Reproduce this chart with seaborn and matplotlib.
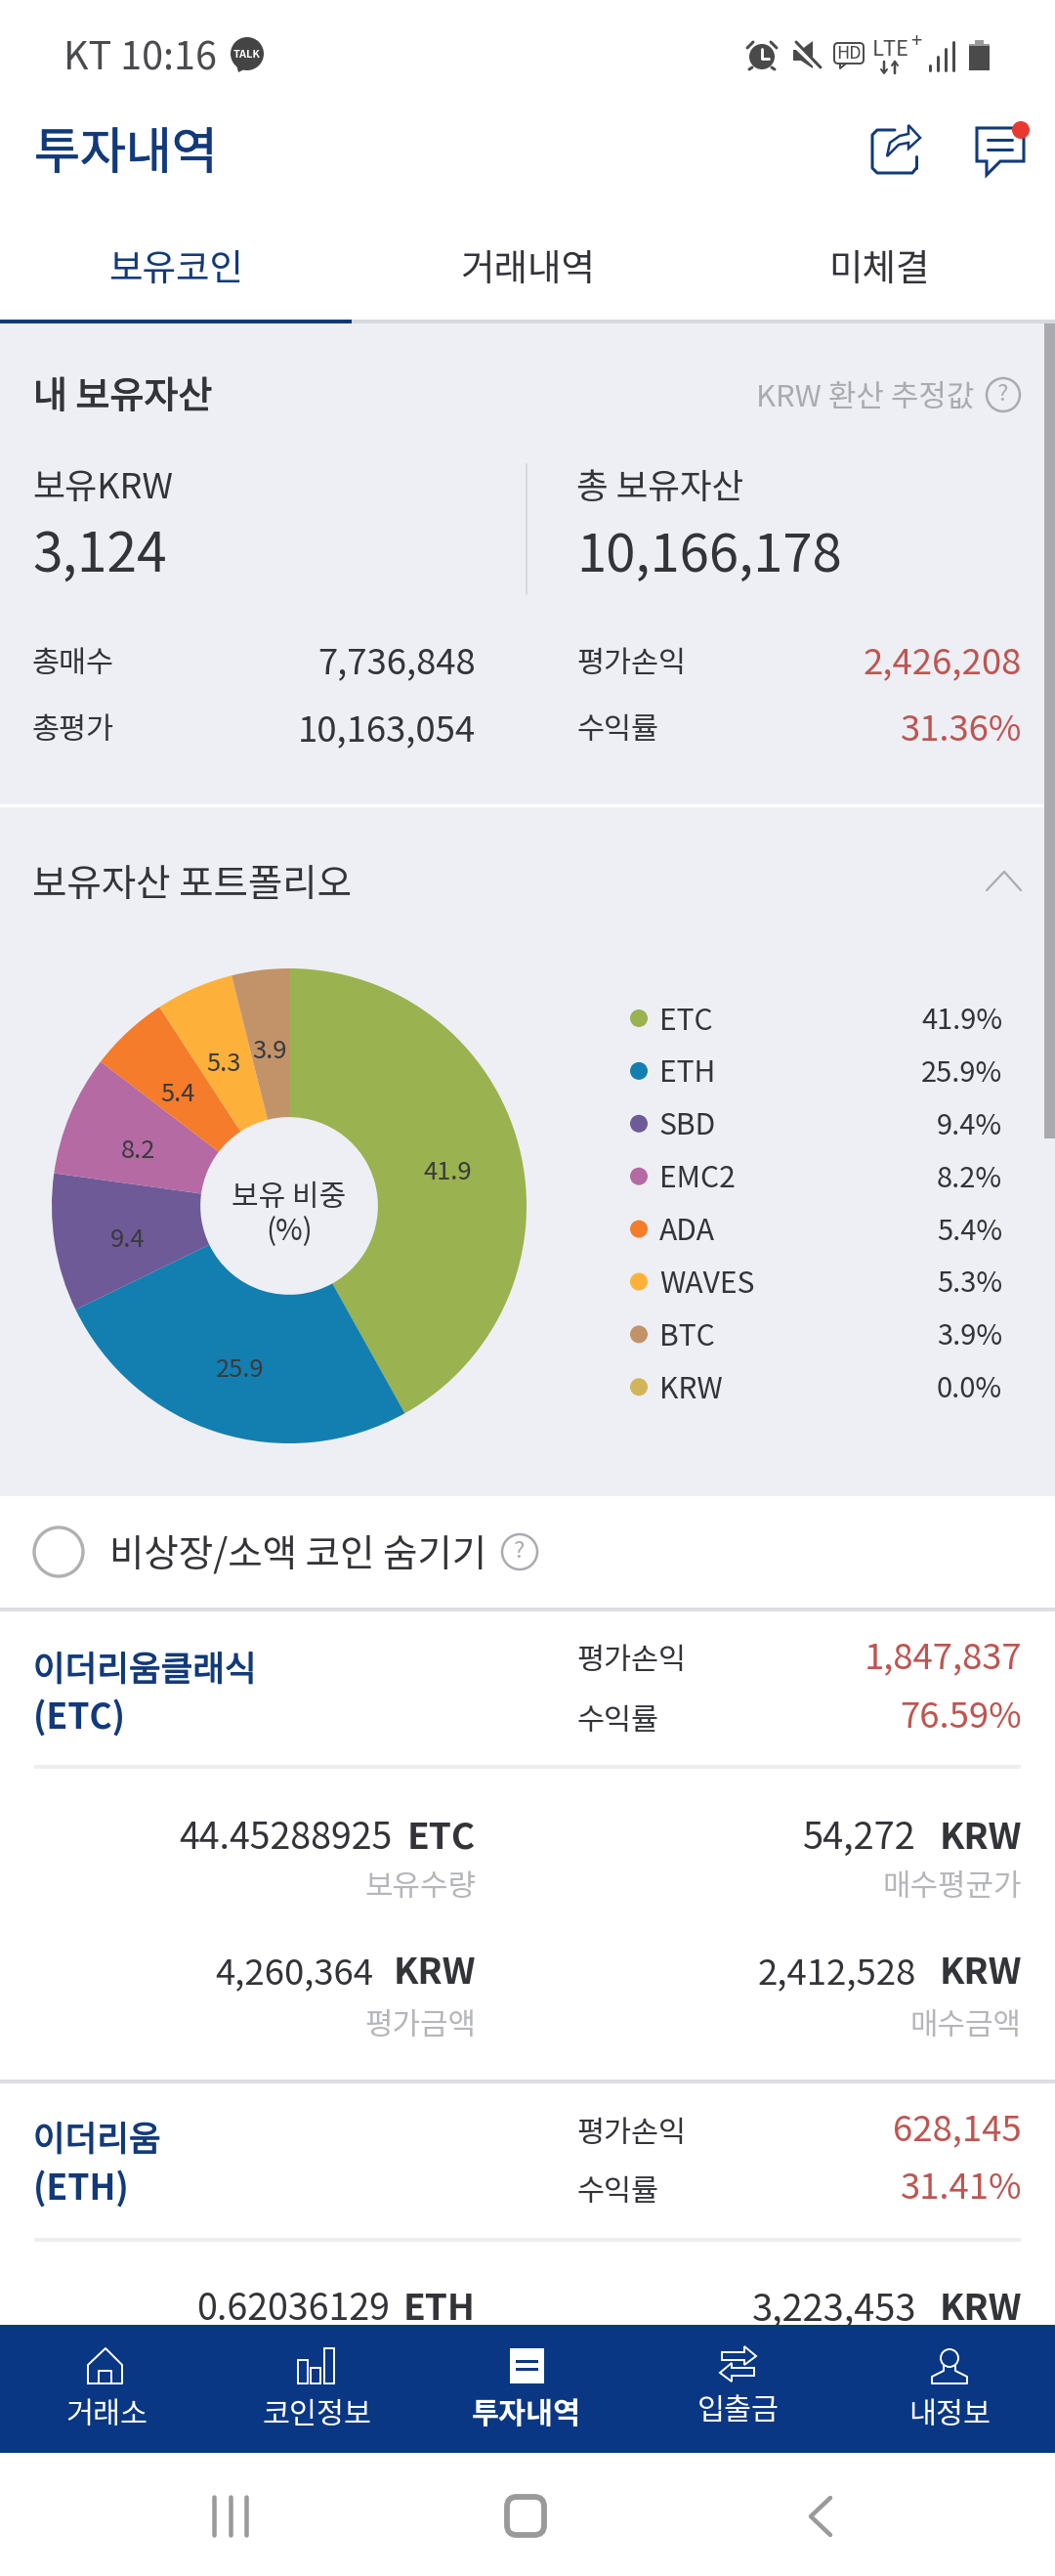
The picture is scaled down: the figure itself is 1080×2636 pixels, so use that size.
"""
Investment history screen with holdings donut
"""

import matplotlib
matplotlib.use("Agg")
import matplotlib.pyplot as plt
import matplotlib.patheffects as pe
import seaborn as sns
import pandas as pd
from matplotlib.patches import Circle, FancyBboxPatch, Polygon, Rectangle

# ============================================================
# DATA
# ============================================================
coins = ["ETC", "ETH", "SBD", "EMC2", "ADA", "WAVES", "BTC", "KRW"]
shares = [41.9, 25.9, 9.4, 8.2, 5.4, 5.3, 3.9, 0.0]
coin_colors = ["#9ab24f", "#137fb0", "#6e5a97", "#b56aa3", "#f47c2b", "#feb13a", "#c29369", "#d2b55a"]

tabs = ["보유코인", "거래내역", "미체결"]
nav_labels = ["거래소", "코인정보", "투자내역", "입출금", "내정보"]

summary_left = [("총매수", "7,736,848"), ("총평가", "10,163,054")]
summary_right = [("평가손익", "2,426,208"), ("수익률", "31.36%")]

etc_amounts = ["44.45288925", "54,272", "4,260,364", "2,412,528"]
etc_units = ["ETC", "KRW", "KRW", "KRW"]
amount_labels = ["보유수량", "매수평균가", "평가금액", "매수금액"]

# ============================================================
# SETUP
# ============================================================
W, H = 1080, 2636
NAVY = "#123a7a"
BAR = "#0a3783"
DARK = "#333438"
RED = "#bf5551"
GREY = "#a9abaf"
PANEL = "#eeeff4"
LINE = "#dcdde0"
ICON = "#4a4a4a"

sns.set_theme(style="white")
plt.rcParams["font.family"] = ["Noto Sans CJK KR", "DejaVu Sans"]

fig = plt.figure(figsize=(W / 100, H / 100), dpi=100, facecolor="white")
ui = fig.add_axes([0, 0, 1, 1])


def txt(x, y, s, size, color=DARK, ha="left", weight="normal", z=3, stroke=0):
    # size is given in pixels, matplotlib wants points
    # +3 because va=center sits a bit high for this font
    t = ui.text(x, y + 3, s, fontsize=size * 0.72, color=color, ha=ha, va="center",
                fontweight=weight, zorder=z)
    if stroke:
        # no medium weight installed, thicken the regular one
        t.set_path_effects([pe.withStroke(linewidth=stroke, foreground=color)])


def rect(x0, y0, x1, y1, color, z=1):
    ui.add_patch(Rectangle((x0, y0), x1 - x0, y1 - y0, facecolor=color, edgecolor="none", zorder=z))


def line(xs, ys, color, lw=2.0, z=3):
    ui.plot(xs, ys, color=color, lw=lw * 0.72, zorder=z, solid_capstyle="round", solid_joinstyle="round")


def help_mark(x, y, r, size):
    ui.add_patch(Circle((x, y), r, facecolor="none", edgecolor="#a9abaf", lw=1.8, zorder=3))
    ui.text(x, y, "?", fontsize=size * 0.72, color=GREY, ha="center", va="center", zorder=3)


# ============================================================
# BACKGROUNDS
# ============================================================
rect(0, 331, W, 1531, PANEL)
rect(0, 823, 1069, 826, "white", z=2)
rect(0, 327, W, 331, "#d8d9de", z=2)
rect(0, 327, 360, 331, NAVY, z=3)
rect(1069, 331, W, 1165, "#a9a9ae", z=2)

# ============================================================
# STATUS BAR
# ============================================================
txt(65, 57, "KT 10:16", 39.5, "#4a4b4e")
ui.add_patch(Circle((253, 55), 17, facecolor="#444", edgecolor="none", zorder=3))
ui.add_patch(Polygon([(242, 66), (252, 70), (244, 74)], facecolor="#444", edgecolor="none", zorder=3))
ui.text(253, 56, "TALK", fontsize=11 * 0.72, color="white", ha="center", va="center", fontweight="bold", zorder=4)

ui.add_patch(Circle((780, 58), 13, facecolor=ICON, edgecolor="none", zorder=3))
line([780, 780, 787], [50, 60, 60], "white", 2.8, z=4)
line([765, 771], [49, 43], ICON, 3)
line([795, 789], [49, 43], ICON, 3)
line([770, 767], [69, 71], ICON, 3)
line([790, 793], [69, 71], ICON, 3)

ui.add_patch(Polygon([(812, 51), (820, 51), (832, 42), (832, 70), (820, 62), (812, 62)],
                     facecolor=ICON, edgecolor="none", zorder=3))
line([812, 840], [44, 71], "white", 6, z=4)
line([815, 840], [43, 69], ICON, 3, z=5)

ui.add_patch(FancyBboxPatch((855, 45), 28, 19, boxstyle="round,pad=1,rounding_size=4",
                            facecolor="none", edgecolor=ICON, lw=1.4, zorder=3))
ui.text(869, 55, "HD", fontsize=18 * 0.72, color=ICON, ha="center", va="center", zorder=4)
line([860, 860, 866], [65, 70, 65], ICON, 2)

ui.text(893, 51, "LTE", fontsize=22 * 0.72, color=ICON, ha="left", va="center", zorder=3)
ui.text(938, 43, "+", fontsize=20 * 0.72, color=ICON, ha="center", va="center", zorder=3)
line([905, 905], [63, 74], ICON, 2.5)
line([902, 905, 908], [71, 75, 71], ICON, 2)
line([916, 916], [63, 75], ICON, 2.5)
line([913, 916, 919], [67, 63, 67], ICON, 2)

for bx, top in zip([952, 960, 968, 976], [67, 58, 50, 43]):
    line([bx, bx], [top, 72], ICON, 3)

rect(992, 45, 1013, 72, ICON, z=3)
rect(998, 41, 1007, 45, "#9a9a9a", z=3)
rect(992, 45, 1013, 47, "#9a9a9a", z=4)

# ============================================================
# HEADER AND TABS
# ============================================================
txt(35, 155, "투자내역", 51, NAVY, stroke=0.5)

line([938, 938], [160, 172], NAVY, 3)
line([938, 934, 898, 893, 893, 898, 916], [172, 177, 177, 172, 138, 133, 133], NAVY, 3)
ui.add_patch(Polygon([(908, 160), (911, 146), (921, 139), (930, 137), (930, 128), (942, 141),
                      (930, 152), (930, 146), (920, 148)],
                     facecolor="white", edgecolor=NAVY, lw=1.8, zorder=4))

ui.add_patch(Polygon([(1000, 131), (1048, 131), (1048, 165), (1024, 165), (1010, 179), (1010, 165), (1000, 165)],
                     facecolor="none", edgecolor=NAVY, lw=2.2, zorder=3))
line([1011, 1036], [143, 143], NAVY, 3)
line([1011, 1036], [153, 153], NAVY, 3)
ui.add_patch(Circle((1045, 133), 9, facecolor="#e8392f", edgecolor="none", zorder=4))

for name, cx, color in zip(tabs, [180, 540, 900], [NAVY, DARK, DARK]):
    txt(cx, 274, name, 37.5, color, ha="center")

# ============================================================
# ASSET SUMMARY
# ============================================================
txt(34, 404, "내 보유자산", 38, DARK, stroke=0.8)
txt(997, 404, "KRW 환산 추정값", 31, GREY, ha="right")
help_mark(1027, 404, 17, 24)

txt(33, 497, "보유KRW", 36)
txt(33, 566, "3,124", 55)
txt(590, 497, "총 보유자산", 35.5)
txt(590, 566, "10,166,178", 54.5)
line([539, 539], [475, 608], "#d8d9de", 2)

for row_y, (name, value) in zip([676, 745], summary_left):
    txt(33, row_y, name, 30.5)
    txt(487, row_y, value, 36.5, ha="right")
for row_y, (name, value) in zip([676, 745], summary_right):
    txt(590, row_y, name, 30.5)
    txt(1046, row_y, value, 36.5, RED, ha="right")

# ============================================================
# PORTFOLIO DONUT
# ============================================================
txt(33, 903, "보유자산 포트폴리오", 38.5)
line([1010, 1028, 1045], [911, 892, 911], GREY, 2.2)

pie_ax = fig.add_axes([(296 - 243) / W, 1 - (1234 + 243) / H, 486 / W, 486 / H], zorder=2)
pie_ax.patch.set_visible(False)
slice_labels = [f"{v:.1f}" if v > 0 else "" for v in shares]
wedges, labels = pie_ax.pie(shares, colors=coin_colors, labels=slice_labels, startangle=90,
                            counterclock=False, radius=1.0, labeldistance=0.69,
                            wedgeprops={"width": 0.626, "linewidth": 0},
                            textprops={"fontsize": 25.5 * 0.72, "color": "#3a3a3c"})
for lab in labels:
    lab.set_ha("center")
    lab.set_va("center")
    lab_x, lab_y = lab.get_position()
    lab.set_position((lab_x, lab_y - 0.035))
pie_ax.set_xlim(-1, 1)
pie_ax.set_ylim(-1, 1)

txt(296, 1222, "보유 비중", 30, ha="center")
txt(296, 1258, "(%)", 30, ha="center")

# legend, drawn as a seaborn scatter on the page axes
row_y = [1042 + i * 53.9 for i in range(len(coins))]
legend_df = pd.DataFrame({"coin": coins, "x": [654] * len(coins), "y": row_y})
sns.scatterplot(data=legend_df, x="x", y="y", hue="coin", palette=coin_colors, s=168,
                linewidth=0, legend=False, ax=ui, zorder=3)
for y, name, value in zip(row_y, coins, shares):
    txt(675, y, name, 30)
    txt(1026, y, f"{value:.1f}%", 29, ha="right")

# ============================================================
# COIN LIST
# ============================================================
ui.add_patch(Circle((60, 1588), 25, facecolor="white", edgecolor="#b0b0b0", lw=2.4, zorder=3))
txt(112, 1588, "비상장/소액 코인 숨기기", 38.5)
help_mark(532, 1588, 18, 24)
rect(0, 1645, W, 1649, LINE)

# first coin
txt(34, 1707, "이더리움클래식", 35.5, NAVY, stroke=0.8)
txt(34, 1755, "(ETC)", 35.5, NAVY, weight="bold")
txt(590, 1697, "평가손익", 30.5)
txt(590, 1758, "수익률", 30.5)
txt(1046, 1694, "1,847,837", 36.5, RED, ha="right")
txt(1046, 1755, "76.59%", 36.5, RED, ha="right")
rect(35, 1806, 1045, 1810, "#eeeeee")

amount_y = [1878, 1878, 2017, 2017]
label_y = [1929, 1929, 2070, 2070]
col_right = [487, 1046, 487, 1046]
value_right = [401, 938, 382, 938]
value_size = [37.5, 38, 36.5, 36.5]
for i in range(4):
    txt(value_right[i], amount_y[i], etc_amounts[i], value_size[i], ha="right")
    txt(col_right[i], amount_y[i], etc_units[i], 37, ha="right", weight="bold")
    txt(col_right[i], label_y[i], amount_labels[i], 31, "#b5b6b9", ha="right")
rect(0, 2128, W, 2132, LINE)

# second coin, cut off by the navigation bar
txt(34, 2188, "이더리움", 35.5, NAVY, stroke=0.8)
txt(34, 2237, "(ETH)", 35.5, NAVY, weight="bold")
txt(590, 2180, "평가손익", 30.5)
txt(590, 2241, "수익률", 30.5)
txt(1046, 2177, "628,145", 36.5, RED, ha="right")
txt(1046, 2237, "31.41%", 36.5, RED, ha="right")
rect(35, 2290, 1045, 2294, "#eeeeee")
txt(399, 2361, "0.62036129", 37.5, ha="right")
txt(486, 2361, "ETH", 37, ha="right", weight="bold")
txt(938, 2361, "3,223,453", 38, ha="right")
txt(1046, 2361, "KRW", 37, ha="right", weight="bold")

# ============================================================
# BOTTOM NAVIGATION
# ============================================================
rect(0, 2379, W, 2510, BAR, z=5)
nav_x = [109, 324, 539, 756, 972]
nav_y = [2468, 2468, 2468, 2465, 2468]
for cx, cy, name in zip(nav_x, nav_y, nav_labels):
    txt(cx, cy, name, 30.5, "white", ha="center", weight="bold" if name == "투자내역" else "normal", z=6)

# home
line([90, 90, 108, 125, 125, 90], [2439, 2420, 2403, 2420, 2439, 2439], "white", 2, z=6)
line([101, 101, 114, 114], [2439, 2426, 2426, 2439], "white", 2, z=6)
# bars
for x0, x1, y0 in [(305, 315, 2415), (318, 328, 2423), (332, 342, 2403)]:
    ui.add_patch(Rectangle((x0, y0), x1 - x0, 2439 - y0, facecolor="none", edgecolor="white", lw=1.4, zorder=6))
# active page
rect(522, 2403, 557, 2439, "white", z=6)
rect(528, 2415, 551, 2418, BAR, z=7)
rect(528, 2423, 551, 2426, BAR, z=7)
# transfer arrows
ui.add_patch(Polygon([(739, 2407), (762, 2407), (762, 2401), (774, 2411), (762, 2420), (762, 2415), (739, 2415)],
                     facecolor="none", edgecolor="white", lw=1.4, zorder=6))
ui.add_patch(Polygon([(772, 2423), (749, 2423), (749, 2418), (737, 2428), (749, 2437), (749, 2431), (772, 2431)],
                     facecolor="none", edgecolor="white", lw=1.4, zorder=6))
# person
ui.add_patch(Circle((972, 2413), 9, facecolor="none", edgecolor="white", lw=1.4, zorder=6))
line([966, 966, 954, 954, 990, 990, 978, 978], [2421, 2426, 2432, 2439, 2439, 2432, 2426, 2421], "white", 2, z=6)

# ============================================================
# ANDROID BUTTONS
# ============================================================
for bx in [219, 236, 252]:
    line([bx, bx], [2555, 2594], "#9a9a9a", 4.5)
ui.add_patch(FancyBboxPatch((526, 2562), 24, 25, boxstyle="round,pad=7,rounding_size=10",
                            facecolor="none", edgecolor="#9a9a9a", lw=4.2, zorder=3))
line([850, 830, 850], [2556, 2575, 2594], "#9a9a9a", 4.5)

ui.set_xlim(0, W)
ui.set_ylim(H, 0)
ui.set_xlabel("")
ui.set_ylabel("")
ui.axis("off")

fig.savefig("out.png", dpi=100, facecolor="white")
print("[SAVED] out.png")
